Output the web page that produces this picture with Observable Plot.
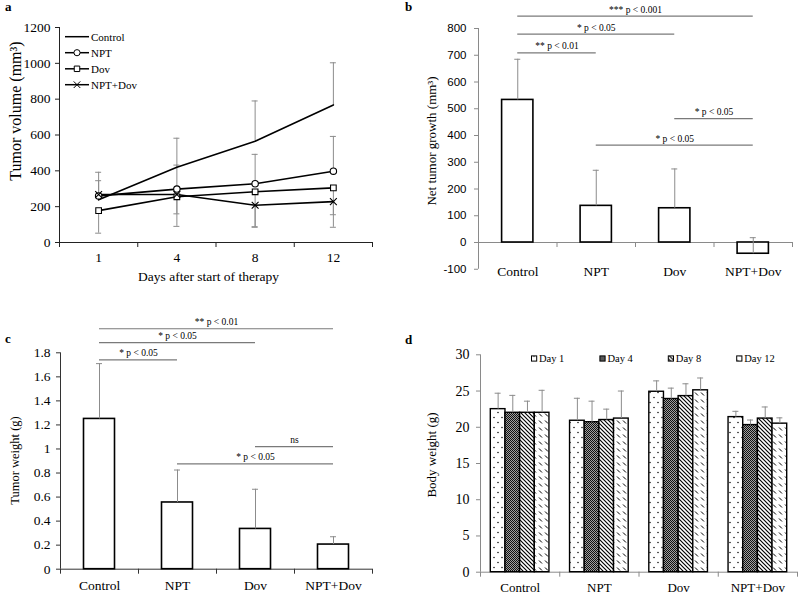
<!DOCTYPE html>
<html><head><meta charset="utf-8">
<script src="https://cdn.jsdelivr.net/npm/d3@7"></script>
<script src="https://cdn.jsdelivr.net/npm/@observablehq/plot@0.6"></script>
<style>
html,body{margin:0;padding:0;background:#fff;}
#root{position:relative;width:800px;height:594px;overflow:hidden;background:#fff;}
#root svg{position:absolute;overflow:visible;}
</style></head>
<body><div id="root"></div>
<script>
// ---------------- data ----------------
const groups = ["Control", "NPT", "Dov", "NPT+Dov"];
const days = ["1", "4", "8", "12"];
const dayNames = ["Day 1", "Day 4", "Day 8", "Day 12"];

// (a) tumour volume (mm³) by day
const volControl = [238, 420, 565, 768];
const volNPT = [260, 298, 328, 398];
const volDov = [178, 255, 283, 305];
const volNPTDov = [268, 268, 208, 228];
// end of the (one-sided) error whisker as drawn; null = not visible
const volControlErr = [345, 582, 790, 1003];
const volNPTErr = [392, 432, 492, 592];
const volDovErr = [52, 90, 88, 155];
const volNPTDovErr = [null, 160, 85, 85];
const yTicksA = [0, 200, 400, 600, 800, 1000, 1200];

// (b) net tumour growth (mm³)
const growth = [533, 137, 128, -42];
const growthErr = [685, 270, 275, 18];
const yTicksB = [-100, 0, 100, 200, 300, 400, 500, 600, 700, 800];
const sigBFrom = [0, 0, 0, 2, 1];
const sigBTo = [3, 2, 1, 3, 3];
const sigBLevel = [846, 779, 709, 463, 364];
const sigBText = ["*** p < 0.001", "* p < 0.05", "** p < 0.01", "* p < 0.05", "* p < 0.05"];

// (c) tumour weight (g)
const weight = [1.25, 0.555, 0.335, 0.205];
const weightErr = [1.71, 0.825, 0.665, 0.27];
const yTicksC = [0, 0.2, 0.4, 0.6, 0.8, 1, 1.2, 1.4, 1.6, 1.8];
const sigCFrom = [0, 0, 0, 2, 1];
const sigCTo = [3, 2, 1, 3, 3];
const sigCLevel = [2.0, 1.885, 1.741, 1.02, 0.876];
const sigCText = ["** p < 0.01", "* p < 0.05", "* p < 0.05", "ns", "* p < 0.05"];

// (d) body weight (g): per group, per day
const bodyDay1 = [22.5, 20.9, 24.9, 21.4];
const bodyDay4 = [22.0, 20.7, 23.9, 20.3];
const bodyDay8 = [22.0, 21.0, 24.3, 21.2];
const bodyDay12 = [22.0, 21.2, 25.1, 20.5];
const bodyDay1Err = [24.7, 24.0, 26.4, 22.2];
const bodyDay4Err = [24.4, 23.6, 25.4, 21.0];
const bodyDay8Err = [23.6, 22.5, 26.0, 22.8];
const bodyDay12Err = [25.1, 25.0, 26.8, 21.3];
const yTicksD = [0, 5, 10, 15, 20, 25, 30];

// ---------------- helpers ----------------
const serif = '"Liberation Serif","Times New Roman",serif';
const sans = '"Liberation Sans",Arial,sans-serif';
const root = document.getElementById("root");
const ERR = "#8c8c8c";
const SIG = "#7a7a7a";

// pattern defs (document-wide)
root.insertAdjacentHTML("beforeend", `
<svg width="0" height="0" style="position:absolute;left:0;top:0">
 <defs>
  <pattern id="pDots" patternUnits="userSpaceOnUse" width="8" height="10">
   <rect width="8" height="10" fill="#fff"/>
   <circle cx="2" cy="2.5" r="0.75" fill="#000"/>
   <circle cx="6" cy="7.5" r="0.75" fill="#000"/>
  </pattern>
  <pattern id="pCheck" patternUnits="userSpaceOnUse" width="2" height="2">
   <rect width="2" height="2" fill="#a0a0a0"/>
   <rect width="1" height="1" fill="#111"/>
   <rect x="1" y="1" width="1" height="1" fill="#111"/>
  </pattern>
  <pattern id="pDiag" patternUnits="userSpaceOnUse" width="4" height="4">
   <rect width="4" height="4" fill="#fff"/>
   <path d="M-1,-1L5,5M-1,3L1,5M3,-1L5,1" stroke="#000" stroke-width="1.15"/>
  </pattern>
  <pattern id="pDash" patternUnits="userSpaceOnUse" width="6" height="7">
   <rect width="6" height="7" fill="#fff"/>
   <path d="M1,1.5L4,4.5" stroke="#000" stroke-width="1"/>
  </pattern>
 </defs>
</svg>`);
const dayFills = ["url(#pDots)", "url(#pCheck)", "url(#pDiag)", "url(#pDash)"];

function place(svg, left, top) {
  svg.style.left = left + "px";
  svg.style.top = top + "px";
  root.appendChild(svg);
  return svg;
}

function frame({yDomain, yTicks, axisColor, tickFont, tickSize, tickFontFamily, tickPad, cats, catDy, catSize, xAxisAt = 0}) {
  return [
    Plot.ruleY(yTicks, {x1: 0, x2: 0, y: d => d, insetLeft: -tickSize, stroke: axisColor}),
    Plot.text(yTicks, {y: d => d, frameAnchor: "left", dx: -(tickSize + tickPad), textAnchor: "end", lineAnchor: "middle",
      text: d => String(d), fontSize: tickFont, fontFamily: tickFontFamily, fill: "#000"}),
    Plot.ruleX([0], {y1: yDomain[0], y2: yDomain[1], stroke: axisColor}),
    Plot.ruleY([xAxisAt], {x1: 0, x2: 4, stroke: axisColor}),
    Plot.ruleX([0, 1, 2, 3, 4], {x: d => d, y1: xAxisAt, y2: xAxisAt, insetBottom: -5, stroke: axisColor}),
    Plot.text(cats, {x: (d, i) => i + 0.5, frameAnchor: "bottom", dy: catDy, lineAnchor: "middle", text: d => d,
      fontSize: catSize, fontFamily: serif, fill: "#000"})
  ];
}

// rotated axis title, placed in the panel's own pixel space
function yTitle(svg, text, x, y, size) {
  d3.select(svg).append("text")
    .attr("transform", `translate(${x},${y}) rotate(-90)`)
    .attr("text-anchor", "middle").attr("dy", "0.35em")
    .attr("font-family", serif).attr("font-size", size).attr("fill", "#000")
    .text(text);
}

function sigMarks(from, to, level, labels) {
  const s = from.map((f, k) => ({f, t: to[k], y: level[k], label: labels[k]}));
  return [
    Plot.ruleY(s, {x1: d => d.f + 0.5, x2: d => d.t + 0.5, y: "y", stroke: SIG, strokeWidth: 1.2}),
    Plot.text(s, {x: d => (d.f + d.t) / 2 + 0.5, y: "y", dy: -6.5, text: "label", fontSize: 9.5, fontFamily: serif, fill: "#000"})
  ];
}

function errMarks(rows, xf) {
  return [
    Plot.ruleX(rows, {x: xf, y1: "v", y2: "e", stroke: ERR, strokeWidth: 1}),
    Plot.ruleY(rows, {x1: xf, x2: xf, y: "e", insetLeft: -3, insetRight: -3, stroke: ERR, strokeWidth: 1})
  ];
}

const baseStyle = {background: "transparent", overflow: "visible", fontFamily: serif, color: "#000"};

// ---------------- panel a ----------------
const volSeries = ["Control", "NPT", "Dov", "NPT+Dov"];
const volVals = [volControl, volNPT, volDov, volNPTDov];
const volErrs = [volControlErr, volNPTErr, volDovErr, volNPTDovErr];
const volTable = [];
volVals.forEach((arr, s) => arr.forEach((v, i) => volTable.push({series: volSeries[s], i, v, e: volErrs[s][i]})));

const svgA = Plot.plot({
  width: 400, height: 290, marginLeft: 59, marginRight: 28, marginTop: 27, marginBottom: 48,
  style: baseStyle,
  x: {domain: [0, 4], axis: null},
  y: {domain: [0, 1200], axis: null},
  symbol: {domain: ["NPT", "Dov", "NPT+Dov"], range: ["circle", "square", "times"]},
  marks: [
    ...frame({yDomain: [0, 1200], yTicks: yTicksA, axisColor: "#222", tickFont: 13.5, tickSize: 4, tickFontFamily: serif, tickPad: 5,
      cats: days, catDy: 14.7, catSize: 13.5}),
    ...errMarks(volTable.filter(d => d.e != null), d => d.i + 0.5),
    Plot.line(volTable, {x: d => d.i + 0.5, y: "v", z: "series", stroke: "#000", strokeWidth: 1.6}),
    Plot.dot(volTable.filter(d => d.series !== "Control"), {x: d => d.i + 0.5, y: "v", symbol: "series", r: 3.2, fill: "#fff", stroke: "#000", strokeWidth: 1.1}),
    Plot.text(["Days after start of therapy"], {frameAnchor: "bottom", dx: -7.5, dy: 34, lineAnchor: "middle", text: d => d, fontSize: 13.5, fontFamily: serif, fill: "#000"})
  ]
});
place(svgA, 0, 0);
yTitle(svgA, "Tumor volume (mm³)", 15, 111, 16);
// legend (a)
{
  const la = d3.select(svgA).append("g");
  const rowsY = [36.7, 52.7, 68.8, 84.7];
  const syms = [null, d3.symbolCircle, d3.symbolSquare, d3.symbolTimes];
  volSeries.forEach((s, k) => {
    const g = la.append("g").attr("transform", `translate(0,${rowsY[k]})`);
    g.append("line").attr("x1", 65).attr("x2", 89).attr("stroke", "#000").attr("stroke-width", 1.5);
    if (syms[k]) g.append("path").attr("transform", "translate(77,0)").attr("d", d3.symbol(syms[k], 30)())
      .attr("fill", "#fff").attr("stroke", "#000").attr("stroke-width", 1);
    g.append("text").attr("x", 91).attr("dy", "0.35em").attr("text-anchor", "start")
      .attr("font-size", 11).attr("font-family", serif).attr("fill", "#000").text(s);
  });
}

// ---------------- panel b ----------------
const bTable = growth.map((v, i) => ({i, v, e: growthErr[i]}));
const svgB = Plot.plot({
  width: 400, height: 290, marginLeft: 78, marginRight: 8, marginTop: 28, marginBottom: 21.25,
  style: baseStyle,
  x: {domain: [0, 4], axis: null},
  y: {domain: [-100, 800], axis: null},
  marks: [
    ...frame({yDomain: [-100, 800], yTicks: yTicksB, axisColor: "#8a8a8a", tickFont: 11.5, tickSize: 4, tickFontFamily: sans, tickPad: 8,
      cats: groups, catDy: 2.5, catSize: 13.5}),
    Plot.rect(bTable, {x1: "i", x2: d => d.i + 1, y1: 0, y2: "v", insetLeft: 23.6, insetRight: 23.6, fill: "#fff", stroke: "#000", strokeWidth: 1.6}),
    ...errMarks(bTable, d => d.i + 0.5),
    ...sigMarks(sigBFrom, sigBTo, sigBLevel, sigBText)
  ]
});
place(svgB, 400, 0);
yTitle(svgB, "Net tumor growth (mm³)", 31.7, 141, 13);

// ---------------- panel c ----------------
const cTable = weight.map((v, i) => ({i, v, e: weightErr[i]}));
const svgC = Plot.plot({
  width: 400, height: 294, marginLeft: 60, marginRight: 28, marginTop: 52.3, marginBottom: 25.3,
  style: baseStyle,
  x: {domain: [0, 4], axis: null},
  y: {domain: [0, 1.8], axis: null},
  marks: [
    ...frame({yDomain: [0, 1.8], yTicks: yTicksC, axisColor: "#333", tickFont: 13.5, tickSize: 4, tickFontFamily: serif, tickPad: 6,
      cats: groups, catDy: 16.3, catSize: 13.5}),
    Plot.rect(cTable, {x1: "i", x2: d => d.i + 1, y1: 0, y2: "v", insetLeft: 23.5, insetRight: 23.5, fill: "#fff", stroke: "#000", strokeWidth: 1.6}),
    ...errMarks(cTable, d => d.i + 0.5),
    ...sigMarks(sigCFrom, sigCTo, sigCLevel, sigCText)
  ]
});
place(svgC, 0, 300);
yTitle(svgC, "Tumor weight (g)", 15, 160.5, 12.5);

// ---------------- panel d ----------------
const bodyVals = [bodyDay1, bodyDay4, bodyDay8, bodyDay12];
const bodyErrs = [bodyDay1Err, bodyDay4Err, bodyDay8Err, bodyDay12Err];
const pad = 0.13, bw = (1 - 2 * pad) / 4;
const dTable = [];
bodyVals.forEach((arr, j) => arr.forEach((v, g) => dTable.push({g, j, v, e: bodyErrs[j][g], x1: g + pad + j * bw, x2: g + pad + (j + 1) * bw})));
const svgD = Plot.plot({
  width: 400, height: 294, marginLeft: 80, marginRight: 3, marginTop: 54.3, marginBottom: 22.3,
  style: baseStyle,
  x: {domain: [0, 4], axis: null},
  y: {domain: [0, 30], axis: null},
  marks: [
    ...frame({yDomain: [0, 30], yTicks: yTicksD, axisColor: "#8a8a8a", tickFont: 14, tickSize: 4, tickFontFamily: serif, tickPad: 7,
      cats: groups, catDy: 15.3, catSize: 13}),
    ...dayFills.map((f, j) => Plot.rect(dTable.filter(d => d.j === j), {x1: "x1", x2: "x2", y1: 0, y2: "v", fill: f, stroke: "#000", strokeWidth: 1.4})),
    ...errMarks(dTable, d => (d.x1 + d.x2) / 2)
  ]
});
place(svgD, 400, 300);
yTitle(svgD, "Body weight (g)", 31.7, 155, 13);
// legend (d)
{
  const ld = d3.select(svgD).append("g").attr("transform", "translate(0,58.5)");
  dayNames.forEach((n, j) => {
    const x = 131.5 + j * 68.4;
    ld.append("rect").attr("x", x).attr("y", -2.6).attr("width", 5.2).attr("height", 5.2).attr("fill", dayFills[j]).attr("stroke", "#000").attr("stroke-width", 1);
    ld.append("text").attr("x", x + 7.5).attr("dy", "0.35em").attr("text-anchor", "start")
      .attr("font-size", 10.5).attr("font-family", serif).attr("fill", "#000").text(n);
  });
}

// ---------------- panel letters ----------------
const lab = d3.select(root).append("svg").attr("width", 800).attr("height", 594).style("left", "0px").style("top", "0px").style("pointer-events", "none");
[["a", 5, 11], ["b", 405, 11], ["c", 5, 342.7], ["d", 405, 344]].forEach(([t, x, y]) =>
  lab.append("text").attr("x", x).attr("y", y).attr("text-anchor", "start").attr("font-family", serif).attr("font-weight", "bold").attr("font-size", 13).attr("fill", "#000").text(t));
</script>
</body></html>
